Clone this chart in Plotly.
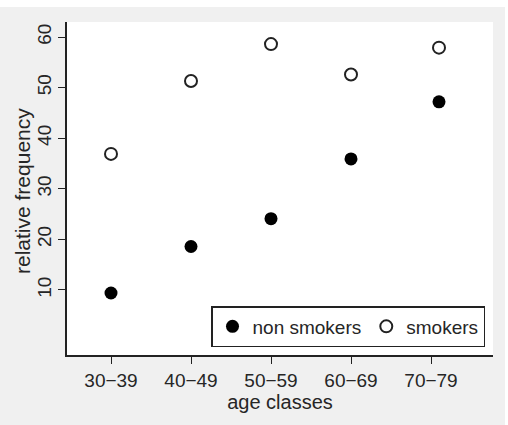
import plotly.graph_objects as go

age_classes = ["30−39", "40−49", "50−59", "60−69", "70−79"]
tick_pos = [1, 2, 3, 4, 5]
x_pos = [1, 2, 3, 4, 5.1]
non_smokers = [9.4, 18.6, 24.1, 35.9, 47.2]
smokers = [36.9, 51.3, 58.6, 52.6, 57.9]
y_ticks = [10, 20, 30, 40, 50, 60]

W, H = 508, 425
L, R, T, B = 67, 493, 22, 355

fig = go.Figure()
fig.add_trace(go.Scatter(
    x=x_pos, y=non_smokers, mode="markers", name="non smokers",
    marker=dict(symbol="circle", size=13, color="#000000"),
))
fig.add_trace(go.Scatter(
    x=x_pos, y=smokers, mode="markers", name="smokers",
    marker=dict(symbol="circle-open", size=12, color="#222222", line=dict(width=2)),
))

font = "Liberation Sans, Arial, sans-serif"
txt = "#262626"
axis_common = dict(
    showgrid=False, zeroline=False, showline=True, linecolor="#222222", linewidth=1.5,
    ticks="outside", ticklen=7, tickwidth=1.2, tickcolor="#222222",
    tickfont=dict(family=font, size=19, color=txt),
    mirror=False,
)
fig.update_xaxes(
    range=[0.45, 5.775], tickvals=tick_pos, ticktext=age_classes,
    title=dict(text="age classes", font=dict(family=font, size=20, color=txt), standoff=4),
    **axis_common,
)
fig.update_yaxes(
    range=[-2.85, 62.97], tickvals=y_ticks, tickangle=-90,
    **axis_common,
)

px_x = lambda p: (p - L) / (R - L)
px_y = lambda p: (B - p) / (B - T)

# y-axis title
fig.add_annotation(
    text="relative frequency", textangle=-90, xref="paper", yref="paper",
    x=px_x(22), y=px_y(191), xanchor="center", yanchor="middle", showarrow=False,
    font=dict(family=font, size=21, color=txt),
)

# white strips at the page edges
fig.add_shape(type="rect", xref="paper", yref="paper",
              x0=px_x(-5), x1=px_x(W + 5), y0=px_y(7), y1=px_y(-5),
              fillcolor="white", line=dict(width=0), layer="below")
fig.add_shape(type="rect", xref="paper", yref="paper",
              x0=px_x(505), x1=px_x(W + 5), y0=px_y(H + 5), y1=px_y(-5),
              fillcolor="white", line=dict(width=0), layer="below")

fig.update_layout(
    width=W, height=H,
    margin=dict(l=L, r=W - R, t=T, b=H - B, pad=0),
    paper_bgcolor="#f0f0f0", plot_bgcolor="white",
    showlegend=True,
    legend=dict(
        orientation="h", x=px_x(485), xanchor="right", y=px_y(347), yanchor="bottom",
        bgcolor="white", bordercolor="#222222", borderwidth=1.5,
        font=dict(family=font, size=19, color=txt),
        itemclick=False, tracegroupgap=0,
    ),
)

fig.write_html("out.html")
